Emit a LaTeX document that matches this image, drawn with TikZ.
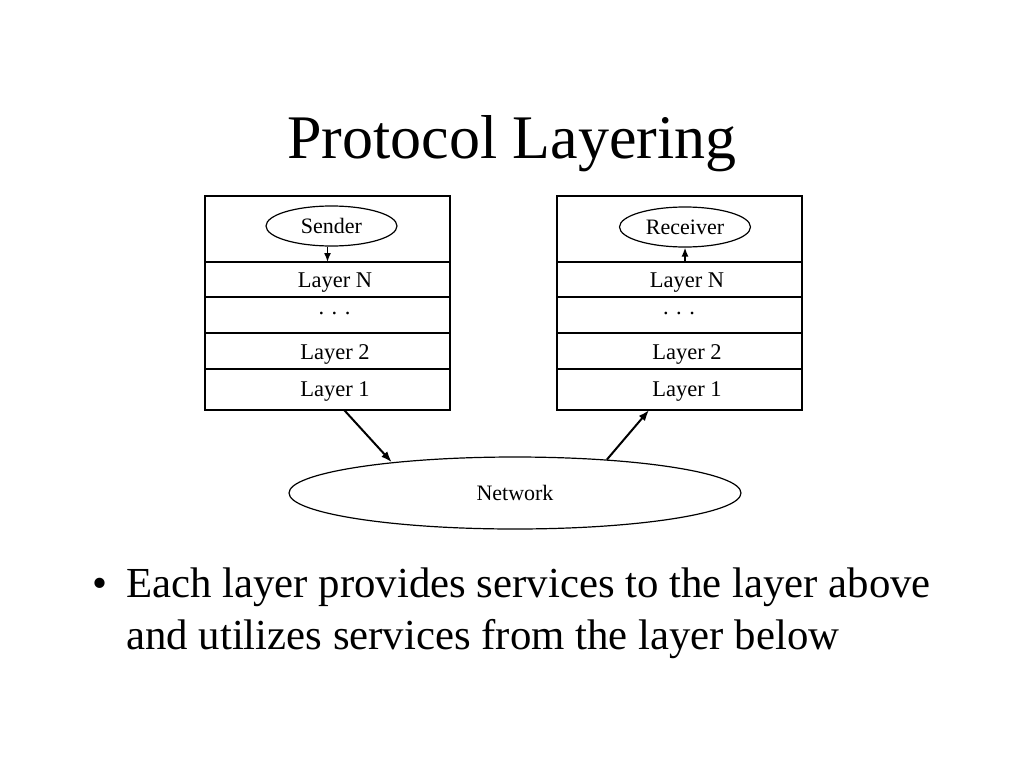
\documentclass[tikz,border=0pt]{standalone}
\usepackage{fontspec}
\setmainfont{Liberation Serif}
\usetikzlibrary{positioning,shapes.geometric,arrows.meta}

\begin{document}
\begin{tikzpicture}[
    x=1pt, y=-1pt,
    cell/.style={
      draw,
      line width=1.2pt,
      minimum width=245pt,
      inner sep=0pt,
      outer sep=0pt
    },
    txt/.style={
      inner sep=0pt,
      font=\fontsize{22.5}{24}\selectfont
    },
    endpoint/.style={
      ellipse,
      draw,
      line width=1.2pt,
      minimum width=131pt,
      minimum height=40pt,
      inner sep=0pt,
      font=\fontsize{22}{24}\selectfont
    },
    flow/.style={
      -{Latex[length=11pt,width=8pt]},
      line width=2pt
    }
  ]

    \useasboundingbox (0,0) rectangle (1024,768);

    % Title
    \node[font=\fontsize{62}{70}\selectfont, anchor=base] (title) at (512,158) {Protocol Layering};

    % The two protocol stacks
    \foreach \stk/\xc in {s/327.5,r/679.5} {
      \node[cell, minimum height=66pt, anchor=north] (\stk-top) at (\xc,196) {};
      \node[cell, minimum height=35pt, below=0pt of \stk-top] (\stk-N) {};
      \node[cell, minimum height=36pt, below=0pt of \stk-N] (\stk-dots) {};
      \node[cell, minimum height=36pt, below=0pt of \stk-dots] (\stk-2) {};
      \node[cell, minimum height=41pt, below=0pt of \stk-2] (\stk-1) {};
    }

    % Layer labels
    \foreach \stk in {s,r} {
      \node[txt, xshift=7.5pt, yshift=-3.5pt] (\stk-Nt) at (\stk-N) {Layer N};
      \node[txt, xshift=7.5pt, yshift=-3.5pt] (\stk-2t) at (\stk-2) {Layer 2};
      \node[txt, xshift=7.5pt, yshift=-2pt] (\stk-1t) at (\stk-1) {Layer 1};
    }
    \node[txt, anchor=base] (s-dotst) at (334.5,314) {. . .};
    \node[txt, anchor=base] (r-dotst) at (679,314) {. . .};

    % Application ends
    \node[endpoint] (sender) at (331.5,226) {Sender};
    \node[endpoint] (receiver) at (685,227) {Receiver};
    \draw[flow, -{Latex[length=9pt,width=7pt]}, line width=1.5pt]
      (sender.south -| s-N.north) -- (s-N.north);
    \draw[flow, -{Latex[length=9pt,width=7pt]}, line width=1.5pt]
      (receiver.south |- r-N.north) -- (receiver.south);

    % Network
    \node[ellipse, draw, line width=1.2pt, minimum width=452pt, minimum height=72pt,
      inner sep=0pt, font=\fontsize{22}{24}\selectfont] (net) at (515,493) {Network};
    \draw[flow] (s-1.-51) -- (net.166);
    \draw[flow] (net.20) -- (r-1.-146);

    % Bullet text
    \node[font=\fontsize{42.8}{50}\selectfont] (dot) at (100,588) {\textbullet};
    \node[font=\fontsize{42.8}{50}\selectfont, anchor=base west, inner sep=0pt] (lineA)
      at (126,597) {Each layer provides services to the layer above};
    \node[font=\fontsize{42.8}{50}\selectfont, anchor=base west, inner sep=0pt] (lineB)
      at (126,649) {and utilizes services from the layer below};

  \end{tikzpicture}
\end{document}
